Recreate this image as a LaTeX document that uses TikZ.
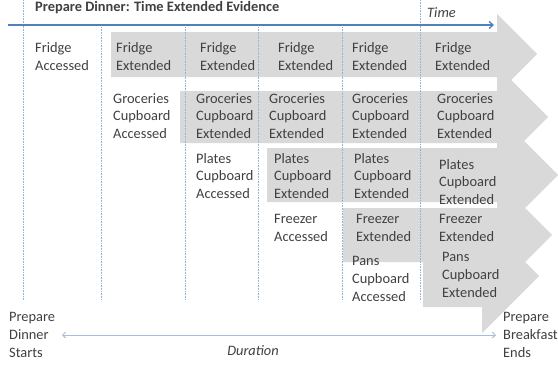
\documentclass[tikz,border=0pt]{standalone}
\usepackage{fontspec}
\setmainfont{Carlito}
\usetikzlibrary{arrows.meta}
\definecolor{txt}{HTML}{404040}
\definecolor{band}{HTML}{D9D9D9}
\definecolor{axisblue}{HTML}{4F81BD}
\definecolor{lightblue}{HTML}{A7BFDE}
\definecolor{gridblue}{HTML}{95B3D7}
\newcommand{\cellfont}{\fontsize{14.4}{17.6}\selectfont}
\tikzset{
  lbl/.style={align=left, anchor=west, inner sep=0pt, text=txt, font=\cellfont},
  bandshape/.style={fill=band, draw=none},
  gridline/.style={draw=gridblue, densely dotted, line width=0.6pt},
  timeaxis/.style={draw=axisblue, line width=1.3pt, -{Straight Barb[length=4pt,width=7pt]}},
  duraxis/.style={draw=lightblue, line width=1pt, {Straight Barb[length=3pt,width=6pt]}-{Straight Barb[length=3pt,width=6pt]}}
}
\begin{document}
\begin{tikzpicture}[x=1pt,y=-1pt]
\useasboundingbox (0,0) rectangle (558,367);
% gray bands with arrow heads
\fill[bandshape] (111,32) -- (497,32) -- (497,14) -- (537,54) -- (497,94) -- (497,77) -- (111,77) -- cycle;
\fill[bandshape] (180,91) -- (497,91) -- (497,66) -- (548,117) -- (497,168) -- (497,143) -- (180,143) -- cycle;
\fill[bandshape] (267,148) -- (498,148) -- (498,115) -- (558,175) -- (498,235) -- (498,202) -- (267,202) -- cycle;
\fill[bandshape] (343,208) -- (497,208) -- (497,180) -- (552,235) -- (497,290) -- (497,262) -- (343,262) -- cycle;
\fill[bandshape] (423,245) -- (482,245) -- (482,219) -- (539,276) -- (482,333) -- (482,307) -- (423,307) -- cycle;
% column lines
\coordinate (g0t) at (23,0);   \coordinate (g0b) at (23,300);
\coordinate (g1t) at (101,27); \coordinate (g1b) at (101,300);
\coordinate (g2t) at (185,27); \coordinate (g2b) at (185,300);
\coordinate (g3t) at (258,27); \coordinate (g3b) at (258,300);
\coordinate (g4t) at (342,27); \coordinate (g4b) at (342,300);
\coordinate (g5t) at (420,0);  \coordinate (g5b) at (420,300);
\foreach \g in {0,...,5} {\draw[gridline] (g\g t) -- (g\g b);}
% time axis
\coordinate (tstart) at (8,25);
\coordinate (tend) at (494,25);
\draw[timeaxis] (tstart) -- (tend);
\node[lbl, font=\cellfont\bfseries] (title) at (35,8) {Prepare Dinner: Time Extended Evidence};
\node[lbl, font=\cellfont\itshape] (time) at (427,13) {Time};
% row 1
\node[lbl] (fa)  at (35,56.5)  {Fridge\\Accessed};
\node[lbl] (fe2) at (116,56.5) {Fridge\\Extended};
\node[lbl] (fe3) at (200,56.5) {Fridge\\Extended};
\node[lbl] (fe4) at (278,56.5) {Fridge\\Extended};
\node[lbl] (fe5) at (352,56.5) {Fridge\\Extended};
\node[lbl] (fe6) at (435,56.5) {Fridge\\Extended};
% row 2
\node[lbl] (ga)  at (113,116) {Groceries\\Cupboard\\Accessed};
\node[lbl] (ge3) at (196,116) {Groceries\\Cupboard\\Extended};
\node[lbl] (ge4) at (269,116) {Groceries\\Cupboard\\Extended};
\node[lbl] (ge5) at (352,116) {Groceries\\Cupboard\\Extended};
\node[lbl] (ge6) at (437,116) {Groceries\\Cupboard\\Extended};
% row 3
\node[lbl] (pa)  at (196,176) {Plates\\Cupboard\\Accessed};
\node[lbl] (pe4) at (274,176) {Plates\\Cupboard\\Extended};
\node[lbl] (pe5) at (354,176) {Plates\\Cupboard\\Extended};
\node[lbl] (pe6) at (439,182) {Plates\\Cupboard\\Extended};
% row 4
\node[lbl] (za)  at (274,228) {Freezer\\Accessed};
\node[lbl] (ze5) at (356,228) {Freezer\\Extended};
\node[lbl] (ze6) at (439,228) {Freezer\\Extended};
% row 5
\node[lbl] (na)  at (352,279) {Pans\\Cupboard\\Accessed};
\node[lbl] (ne6) at (442,275) {Pans\\Cupboard\\Extended};
% bottom
\node[lbl] (start) at (9,335) {Prepare\\Dinner\\Starts};
\node[lbl] (ends) at (503,335) {Prepare\\Breakfast\\Ends};
\coordinate (dstart) at (62,335);
\coordinate (dend) at (496,335);
\draw[duraxis] (dstart) -- (dend);
\node[lbl, anchor=center, font=\cellfont\itshape] (dur) at (253,351) {Duration};
\end{tikzpicture}
\end{document}
